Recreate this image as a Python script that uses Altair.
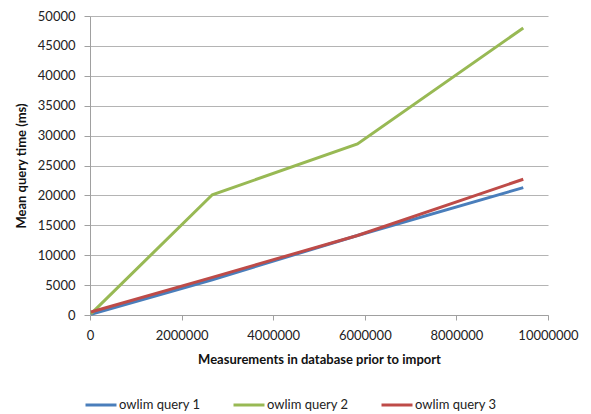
import altair as alt
import pandas as pd

measurements = [20000, 2670000, 5840000, 9460000]
query1 = [100, 5900, 13300, 21300]
query2 = [200, 20100, 28600, 48000]
query3 = [500, 6300, 13300, 22700]
series = ["owlim query 1", "owlim query 2", "owlim query 3"]
colors = ["#4a7ebb", "#98b954", "#be4b48"]

rows = []
for name, vals in zip(series, [query1, query2, query3]):
    for m, v in zip(measurements, vals):
        rows.append({"m": m, "t": v, "s": name})
df = pd.DataFrame(rows)

FONT = "Lato"

chart = alt.Chart(df).mark_line(strokeWidth=3).encode(
    x=alt.X("m:Q", scale=alt.Scale(domain=[0, 10000000], nice=False),
            axis=alt.Axis(title="Measurements in database  prior to import",
                          values=[0, 2000000, 4000000, 6000000, 8000000, 10000000],
                          format="d", grid=False, domain=True, domainColor="#a0a0a0",
                          ticks=True, tickColor="#a0a0a0", tickSize=5,
                          labelFlush=False, labelOverlap=False,
                          labelPadding=9, titlePadding=11)),
    y=alt.Y("t:Q", scale=alt.Scale(domain=[0, 50000], nice=False),
            axis=alt.Axis(title="Mean query time (ms)",
                          values=list(range(0, 50001, 5000)),
                          format="d", grid=True, gridColor="#b4b4b4", gridWidth=1.2,
                          domain=True, domainColor="#a0a0a0",
                          ticks=True, tickColor="#a0a0a0", tickSize=6,
                          labelFlush=False, labelOverlap=False,
                          labelPadding=9, titlePadding=9)),
    color=alt.Color("s:N", scale=alt.Scale(domain=series, range=colors),
                    legend=alt.Legend(title=None, orient="none", direction="horizontal",
                                      legendX=-6, legendY=372,
                                      symbolType="stroke", symbolSize=961,
                                      symbolStrokeWidth=3, columnPadding=26,
                                      labelFontSize=13, labelFont=FONT,
                                      labelColor="#222222", labelOffset=1)),
).properties(
    width=458, height=299,
    padding={"left": 82, "top": 8, "right": 35, "bottom": 110},
    autosize=alt.AutoSizeParams(type="none"),
).configure_view(stroke=None).configure_axis(
    labelFont=FONT, labelFontSize=13, labelColor="#222222",
    titleFont=FONT, titleFontSize=13, titleFontWeight="bold", titleColor="#111111",
)

chart.save("out.html", embed_options={"renderer": "svg", "actions": False})
